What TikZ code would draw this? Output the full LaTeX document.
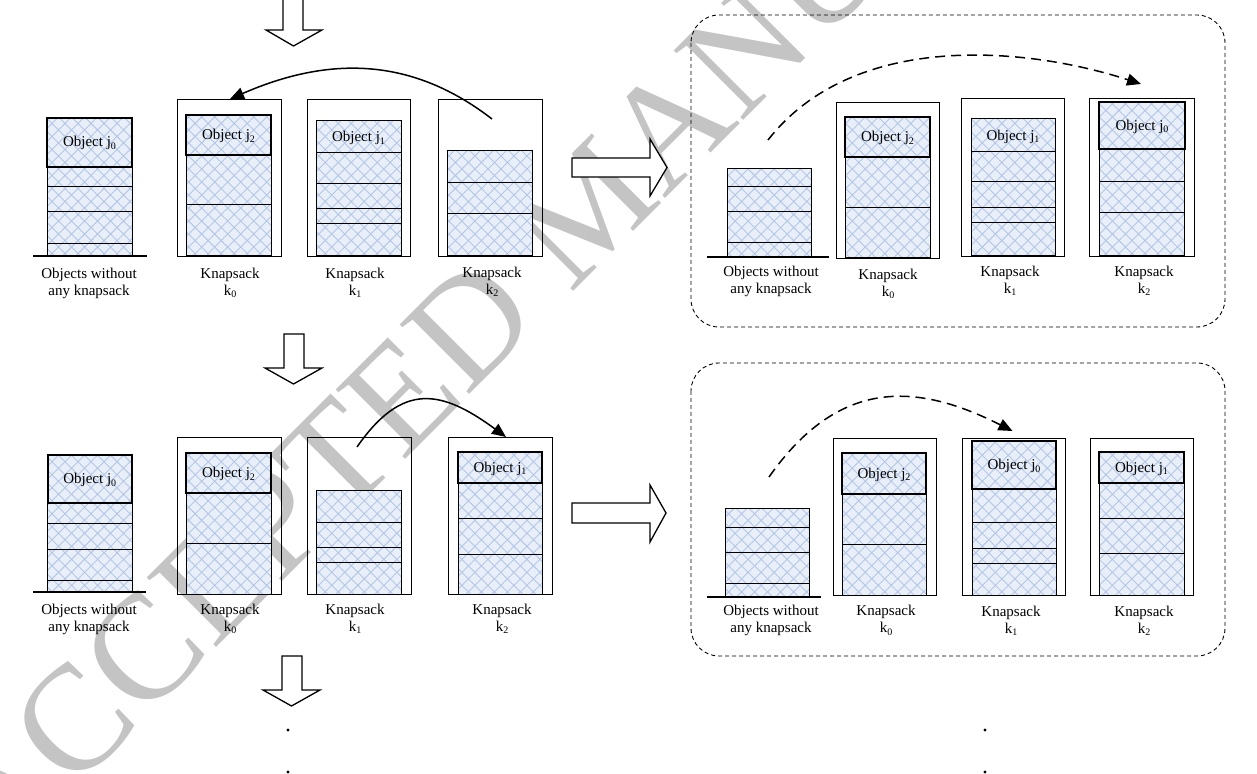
\documentclass[tikz,border=0pt]{standalone}
\usepackage{fontspec}
\setmainfont{Liberation Serif}
\usetikzlibrary{arrows.meta,patterns.meta}
\definecolor{cellbg}{RGB}{233,239,249}
\definecolor{hatchc}{RGB}{180,199,230}
\definecolor{wmgray}{RGB}{196,196,196}
\newcommand\lsub[1]{\raisebox{-0.35ex}{\fontsize{5}{5}\selectfont #1}}
\tikzset{
 cell/.style={draw=black, line width=0.5pt, preaction={fill=cellbg},
   pattern={Hatch[angle=45,distance=4.6pt,line width=0.45pt]}, pattern color=hatchc},
 objcell/.style={cell, line width=1pt},
 sack/.style={draw=black, line width=0.45pt},
 ground/.style={draw=black, line width=0.6pt},
 blockarrow/.style={draw=black, line width=0.65pt, fill=white, line join=miter},
 movearrow/.style={draw=black, line width=0.75pt, -{Triangle[length=7pt,width=6pt]}},
 dasharrow/.style={movearrow, dash pattern=on 5pt off 3pt},
 group/.style={draw=black, line width=0.45pt, dash pattern=on 2pt off 1.5pt, rounded corners=14pt},
 lbl/.style={align=center, font=\fontsize{7.5}{8.5}\selectfont, inner sep=0pt},
 objtxt/.style={font=\fontsize{7.5}{8.5}\selectfont, inner sep=0pt, anchor=base},
 wm/.style={rotate=45, text=wmgray, font=\fontsize{75}{75}\selectfont, inner sep=0pt},
 dot/.style={fill=black},
}
\begin{document}
\begin{tikzpicture}[x=0.5pt,y=-0.5pt]
\useasboundingbox (0,0) rectangle (1257,774);
% watermark
\node[wm] (wmark) at (590,205) {ACCEPTED MANUSCRIPT};

% ================= Row A (top left) =================
\draw[blockarrow] (283,-4) -- (283,30) -- (266,30) -- (293.5,46) -- (322,30) -- (303,30) -- (303,-4) -- cycle;
% objects without knapsack
\foreach \a/\b in {167/187,187/212,212/244,244/256} \draw[cell] (47,\a) rectangle (132,\b);
\draw[objcell] (47,118) rectangle (132,167);
\draw[ground] (33,256) -- (147,256);
\node[objtxt] (aO0) at (89.5,147) {Object j\lsub{0}};
% k0
\draw[sack] (177,99) rectangle (281,256);
\foreach \a/\b in {155/205,205/256} \draw[cell] (186,\a) rectangle (271,\b);
\draw[objcell] (186,115) rectangle (271,155);
\node[objtxt] (aO1) at (228.5,140) {Object j\lsub{2}};
% k1
\draw[sack] (307,99) rectangle (410,256);
\foreach \a/\b in {121/153,153/184,184/209,209/224,224/256} \draw[cell] (316,\a) rectangle (401,\b);
\node[objtxt] (aO2) at (358.5,142) {Object j\lsub{1}};
% k2
\draw[sack] (438,99) rectangle (542,256);
\foreach \a/\b in {151/183,183/214,214/256} \draw[cell] (447,\a) rectangle (532,\b);
% labels
\node[lbl] (aL0) at (89,283) {Objects without\\any knapsack};
\node[lbl] (aL1) at (230,283) {Knapsack\\k\lsub{0}};
\node[lbl] (aL2) at (355,283) {Knapsack\\k\lsub{1}};
\node[lbl] (aL3) at (492,282) {Knapsack\\k\lsub{2}};
% move arrow
\coordinate (aFrom) at (492,119);
\coordinate (aTo) at (230,99);
\draw[movearrow] (aFrom) .. controls (413,58) and (331,55) .. (aTo);
% right block arrow
\draw[blockarrow] (572,158) -- (650,158) -- (650,139) -- (667,167.5) -- (650,196) -- (650,177) -- (572,177) -- cycle;

% ================= Row B (top right) =================
\draw[group] (691,15) rectangle (1225,327);
\foreach \a/\b in {169/187,187/212,212/243,243/257} \draw[cell] (727,\a) rectangle (811,\b);
\draw[ground] (707,257) -- (829,257);
% k0
\draw[sack] (836,102) rectangle (939,258);
\foreach \a/\b in {157/208,208/258} \draw[cell] (845,\a) rectangle (930,\b);
\draw[objcell] (845,117) rectangle (930,157);
\node[objtxt] (bO1) at (887.5,142) {Object j\lsub{2}};
% k1
\draw[sack] (961,98) rectangle (1064,256);
\foreach \a/\b in {119/152,152/182,182/208,208/223,223/256} \draw[cell] (971,\a) rectangle (1055,\b);
\node[objtxt] (bO2) at (1013,140.5) {Object j\lsub{1}};
% k2
\draw[sack] (1089,98) rectangle (1194,256);
\foreach \a/\b in {149/182,182/213,213/256} \draw[cell] (1099,\a) rectangle (1184,\b);
\draw[objcell] (1099,102) rectangle (1185,149);
\node[objtxt] (bO3) at (1142,130.5) {Object j\lsub{0}};
% labels
\node[lbl] (bL0) at (771,281) {Objects without\\any knapsack};
\node[lbl] (bL1) at (888,284) {Knapsack\\k\lsub{0}};
\node[lbl] (bL2) at (1010,281) {Knapsack\\k\lsub{1}};
\node[lbl] (bL3) at (1144,281) {Knapsack\\k\lsub{2}};
\coordinate (bFrom) at (768,140);
\coordinate (bTo) at (1141,84);
\draw[dasharrow] (bFrom) .. controls (854,30) and (1027,47) .. (bTo);

% ================= Row C (bottom left) =================
\draw[blockarrow] (284,334) -- (284,368) -- (265,368) -- (293.5,384) -- (322,368) -- (304,368) -- (304,334) -- cycle;
\foreach \a/\b in {503/523,523/549,549/580,580/592} \draw[cell] (47.5,\a) rectangle (132,\b);
\draw[objcell] (47.5,455) rectangle (132,503);
\draw[ground] (33,592) -- (146,592);
\node[objtxt] (cO0) at (89.75,484) {Object j\lsub{0}};
% k0
\draw[sack] (177.5,437) rectangle (281,594);
\foreach \a/\b in {493/543,543/594} \draw[cell] (186,\a) rectangle (271,\b);
\draw[objcell] (186,453) rectangle (271,493);
\node[objtxt] (cO1) at (228.5,478) {Object j\lsub{2}};
% k1
\draw[sack] (307.5,437) rectangle (411,594);
\foreach \a/\b in {491/522,522/547,547/562,562/594} \draw[cell] (316,\a) rectangle (401,\b);
% k2
\draw[sack] (448,437) rectangle (552,594);
\foreach \a/\b in {483/518,518/554,554/594} \draw[cell] (458,\a) rectangle (542,\b);
\draw[objcell] (458,452) rectangle (542,483);
\node[objtxt] (cO3) at (500,472.5) {Object j\lsub{1}};
% labels
\node[lbl] (cL0) at (89,619) {Objects without\\any knapsack};
\node[lbl] (cL1) at (230,619) {Knapsack\\k\lsub{0}};
\node[lbl] (cL2) at (355,619) {Knapsack\\k\lsub{1}};
\node[lbl] (cL3) at (502,619) {Knapsack\\k\lsub{2}};
\coordinate (cFrom) at (357,447);
\coordinate (cTo) at (506,437);
\draw[movearrow] (cFrom) .. controls (402.6,381.4) and (441.6,389.8) .. (cTo);
\draw[blockarrow] (572,503) -- (650,503) -- (650,485) -- (666,513) -- (650,542) -- (650,523) -- (572,523) -- cycle;
% continuation
\draw[blockarrow] (282,656) -- (282,690) -- (263,690) -- (291.5,706) -- (320,690) -- (302,690) -- (302,656) -- cycle;
\fill[dot] (288,730) circle[radius=0.85pt];
\fill[dot] (288,772) circle[radius=0.85pt];

% ================= Row D (bottom right) =================
\draw[group] (691,363) rectangle (1225,656);
\foreach \a/\b in {508/527,527/552,552/583,583/597} \draw[cell] (725,\a) rectangle (809,\b);
\draw[ground] (707,597) -- (821,597);
% k0
\draw[sack] (833,438) rectangle (936,595);
\foreach \a/\b in {494/544,544/595} \draw[cell] (842,\a) rectangle (926,\b);
\draw[objcell] (842,453) rectangle (926,494);
\node[objtxt] (dO1) at (884,478.5) {Object j\lsub{2}};
% k1
\draw[sack] (962.5,438) rectangle (1065,595);
\foreach \a/\b in {489/522,522/548,548/563,563/595} \draw[cell] (972,\a) rectangle (1056,\b);
\draw[objcell] (972,441) rectangle (1056,489);
\node[objtxt] (dO2) at (1014,470) {Object j\lsub{0}};
% k2
\draw[sack] (1090,438) rectangle (1193,595);
\foreach \a/\b in {483/518,518/553,553/595} \draw[cell] (1099,\a) rectangle (1184,\b);
\draw[objcell] (1099,452) rectangle (1184,483);
\node[objtxt] (dO3) at (1141.5,472.5) {Object j\lsub{1}};
% labels
\node[lbl] (dL0) at (771,620.5) {Objects without\\any knapsack};
\node[lbl] (dL1) at (886,620.5) {Knapsack\\k\lsub{0}};
\node[lbl] (dL2) at (1011,620.5) {Knapsack\\k\lsub{1}};
\node[lbl] (dL3) at (1144,620.5) {Knapsack\\k\lsub{2}};
\coordinate (dFrom) at (769,477);
\coordinate (dTo) at (1012.5,431);
\draw[dasharrow] (dFrom) .. controls (838,379) and (914.6,381.5) .. (dTo);
\fill[dot] (985,730) circle[radius=0.85pt];
\fill[dot] (985,772) circle[radius=0.85pt];
\end{tikzpicture}
\end{document}
